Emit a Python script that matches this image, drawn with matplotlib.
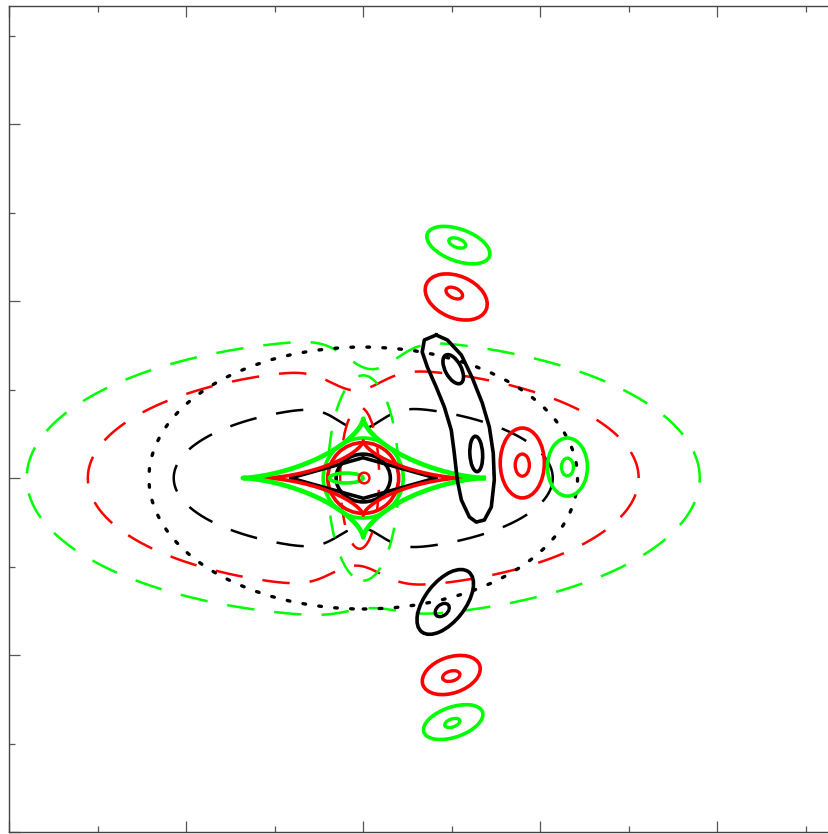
"""
Lens model overlay: caustics, critical curves and lensed source contours
"""

import numpy as np
import matplotlib.pyplot as plt
from matplotlib.patches import Ellipse

# ====================
# DATA (data units)
# ====================
models = ['black', 'red', 'green']
model_colors = {'black': '#000000', 'red': '#ff0000', 'green': '#00ff00'}

# large dashed critical curves: semi-axes plus the pinch at the middle
crit_a = [1.07, 1.555, 1.90]
crit_b = [0.41, 0.62, 0.785]
crit_pinch_top = [0.135, 0.125, 0.17]
crit_pinch_bot = [0.13, 0.125, 0.05]
crit_pinch_x = [-0.02, -0.04, 0.05]
crit_pinch_w = [0.17, 0.20, 0.20]

# small dashed inner curves (red, green)
inner_dashed_models = ['red', 'green']
inner_dashed_x = [-0.02, 0.0]
inner_dashed_a = [0.11, 0.20]
inner_dashed_b = [0.40, 0.58]

# dotted reference ellipse
dotted_a, dotted_b = 1.21, 0.74

# astroid-like caustics: semi-axes and cusp sharpness
caustic_a = [0.41, 0.55, 0.68]
caustic_b = [0.115, 0.21, 0.335]
caustic_p = [2.0, 3.0, 3.0]

# small solid circles around the centre
circle_a = [0.153, 0.20, 0.226]
circle_b = [0.135, 0.20, 0.226]

# central source marks
src_green_x, src_green_y, src_green_w, src_green_h = -0.096, 0.0, 0.19, 0.056
src_red_x, src_red_y, src_red_r = 0.005, 0.0, 0.03

# black arc (outer contour vertices)
arc_x = [0.412, 0.475, 0.554, 0.616, 0.672, 0.712, 0.734, 0.740, 0.723, 0.684, 0.638,
         0.599, 0.554, 0.531, 0.514, 0.497, 0.458, 0.412, 0.362, 0.333, 0.345, 0.412]
arc_y = [0.808, 0.780, 0.695, 0.565, 0.424, 0.288, 0.141, -0.011, -0.164, -0.237, -0.249,
         -0.220, -0.124, -0.011, 0.141, 0.271, 0.401, 0.514, 0.627, 0.712, 0.780, 0.808]

# image contours: colour, centre, width, height, angle
img_color = ['black', 'black', 'black', 'red', 'green', 'red', 'green', 'red', 'green']
img_x = [0.508, 0.638, 0.463, 0.497, 0.508, 0.525, 0.537, 0.898, 1.153]
img_y = [0.615, 0.136, -0.700, -1.113, -1.379, 1.023, 1.316, 0.085, 0.062]
img_w = [0.180, 0.200, 0.430, 0.339, 0.350, 0.367, 0.373, 0.249, 0.226]
img_h = [0.090, 0.072, 0.226, 0.203, 0.170, 0.237, 0.180, 0.395, 0.328]
img_ang = [118, 93, 52, 19, 19, -23, -20, 0, 0]

inner_x = [0.446, 0.497, 0.503, 0.514, 0.531, 0.898, 1.153]
inner_y = [-0.746, -1.119, -1.384, 1.045, 1.328, 0.073, 0.062]
inner_w = [0.090, 0.100, 0.090, 0.100, 0.100, 0.080, 0.068]
inner_h = [0.062, 0.057, 0.045, 0.057, 0.050, 0.125, 0.100]
inner_ang = [40, 15, 19, -25, -20, 0, 0]
inner_color = ['black', 'red', 'green', 'red', 'green', 'red', 'green']

# ====================
# FIGURE
# ====================
fig = plt.figure(figsize=(8.29, 8.34), dpi=100)
ax = fig.add_axes([9 / 829, 2 / 834, 836 / 829, 826 / 834])
ax.set_xlim(-2.0, 2.72)
ax.set_ylim(-2.0, 2.667)

dash = (0, (11, 8))
t = np.linspace(0, 2 * np.pi, 800)

# large dashed critical curves (ellipse pinched towards the middle)
for i, m in enumerate(models):
    ex = crit_a[i] * np.cos(t)
    ey = crit_b[i] * np.sin(t)
    pinch = np.exp(-((ex - crit_pinch_x[i]) / crit_pinch_w[i]) ** 2)
    ey = np.where(ey > 0, ey - crit_pinch_top[i] * pinch, ey + crit_pinch_bot[i] * pinch)
    ax.plot(ex, ey, color=model_colors[m], lw=1.8, ls=dash, zorder=2)

for m, x0, a, b in zip(inner_dashed_models, inner_dashed_x, inner_dashed_a, inner_dashed_b):
    ax.add_patch(Ellipse((x0, 0.0), 2 * a, 2 * b, fill=False,
                         ec=model_colors[m], lw=1.8, ls=(0, (9, 8)), zorder=2))

ax.add_patch(Ellipse((0.0, 0.0), 2 * dotted_a, 2 * dotted_b, fill=False,
                     ec='black', lw=2.4, ls=(0, (0.8, 4)), capstyle='round', zorder=2))

# caustics
for m, a, b, p in zip(models, caustic_a, caustic_b, caustic_p):
    cx = a * np.sign(np.cos(t)) * np.abs(np.cos(t)) ** p
    cy = b * np.sign(np.sin(t)) * np.abs(np.sin(t)) ** p
    lw = 3.4 if m == 'green' else 2.6
    ax.plot(cx, cy, color=model_colors[m], lw=lw, zorder=4)

# small critical circles
for m, a, b in zip(models, circle_a, circle_b):
    ax.add_patch(Ellipse((0.0, 0.0), 2 * a, 2 * b, fill=False,
                         ec=model_colors[m], lw=2.6, zorder=3))

# central source marks
ax.add_patch(Ellipse((src_green_x, src_green_y), src_green_w, src_green_h,
                     fc='none', ec=model_colors['green'], lw=2.6, zorder=5))
ax.add_patch(Ellipse((src_red_x, src_red_y), 2 * src_red_r, 2 * src_red_r,
                     fc='none', ec=model_colors['red'], lw=1.8, zorder=6))

# black arc
ax.plot(arc_x, arc_y, color='black', lw=2.6, solid_joinstyle='round', zorder=5)

# image contours
for c, x, y, w, h, ang in zip(img_color, img_x, img_y, img_w, img_h, img_ang):
    ax.add_patch(Ellipse((x, y), w, h, angle=ang, fill=False,
                         ec=model_colors[c], lw=2.6, zorder=5))
for c, x, y, w, h, ang in zip(inner_color, inner_x, inner_y, inner_w, inner_h, inner_ang):
    ax.add_patch(Ellipse((x, y), w, h, angle=ang, fill=False,
                         ec=model_colors[c], lw=2.4, zorder=5))

# ====================
# AXES STYLE
# ====================
ax.set_xticks(np.arange(-2, 3, 1))
ax.set_yticks(np.arange(-2, 3, 1))
ax.set_xticks(np.arange(-1.5, 2.6, 1), minor=True)
ax.set_yticks(np.arange(-1.5, 2.6, 1), minor=True)
ax.tick_params(which='both', direction='in', top=True, right=True,
               labelbottom=False, labelleft=False, color='#555555', width=0.9)
ax.tick_params(which='major', length=8)
ax.tick_params(which='minor', length=4.5)
for s in ax.spines.values():
    s.set_color('#444444')
    s.set_linewidth(1.0)

fig.savefig('out.png', dpi=100)
plt.close(fig)
